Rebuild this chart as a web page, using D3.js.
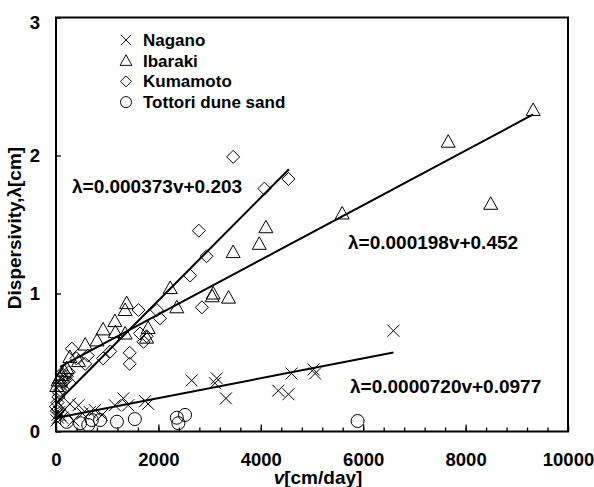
<!DOCTYPE html>
<html>
<head>
<meta charset="UTF-8">
<script src="https://d3js.org/d3.v7.min.js"></script>
<style>
  body { margin: 0; background: #fff; }
  svg text { font-family: "Liberation Sans", Arial, sans-serif; font-weight: bold; font-size: 17px; fill: #000; }
  .tick text { font-size: 18.5px; }
  .eq, .title { font-size: 19px; }
</style>
</head>
<body>
<svg width="594" height="487"></svg>
<script>
// data: [v (cm/day), dispersivity (cm)]
const nagano = [[10,0.08],[25,0.12],[40,0.1],[60,0.14],[80,0.12],[120,0.1],[170,0.16],[270,0.2],[340,0.08],[440,0.19],[520,0.13],[660,0.14],[760,0.155],[900,0.12],
  [1150,0.19],[1315,0.24],[1410,0.19],[1740,0.22],[1800,0.2],[2650,0.37],[3105,0.35],[3140,0.385],[3320,0.24],
  [4340,0.296],[4540,0.27],[4600,0.42],[5030,0.45],[5060,0.42],[6590,0.73]];
const ibaraki = [[15,0.33],[40,0.37],[70,0.39],[110,0.41],[160,0.44],[210,0.46],[270,0.54],[440,0.51],[570,0.63],[800,0.66],[920,0.74],
  [1150,0.8],[1160,0.72],[1350,0.88],[1350,0.71],[1380,0.93],[1770,0.68],[1800,0.75],[2230,1.04],[2360,0.9],
  [3050,0.98],[3070,1.0],[3370,0.97],[3460,1.3],[3970,1.36],[4100,1.48],[5590,1.58],[7660,2.1],[8490,1.65],[9320,2.33]];
const kumamoto = [[0,0.18],[15,0.15],[30,0.21],[45,0.25],[60,0.28],[80,0.3],[100,0.33],[110,0.42],[140,0.36],[180,0.37],[210,0.4],[270,0.35],[250,0.43],
  [310,0.6],[400,0.53],[570,0.49],[620,0.55],[920,0.53],[1060,0.58],[1440,0.57],[1440,0.49],[1610,0.88],[1640,0.71],[1710,0.65],[1770,0.69],
  [1970,0.88],[2030,0.82],[2620,1.13],[2790,1.455],[2850,0.9],[2940,1.27],[3460,1.99],[4070,1.76],[4540,1.83]];
const tottori = [[210,0.07],[470,0.06],[630,0.047],[700,0.083],[860,0.083],[1190,0.071],[1540,0.09],[2360,0.1],[2390,0.06],[2520,0.12],[5890,0.076]];

// trend lines: slope, intercept, v range, label anchor (data units)
const fits = [
  { slope: 0.000373, icpt: 0.203, from: 0, to: 4550, label: "λ=0.000373v+0.203", lx: 312, ly: 1.728 },
  { slope: 0.000198, icpt: 0.452, from: 80, to: 9320, label: "λ=0.000198v+0.452", lx: 5703, ly: 1.322 },
  { slope: 0.0000720, icpt: 0.0977, from: 20, to: 6590, label: "λ=0.0000720v+0.0977", lx: 5742, ly: 0.279 }
];
const xTicks = [0, 2000, 4000, 6000, 8000, 10000];
const yTicks = [0, 1, 2, 3];

const svg = d3.select("svg");
const margin = { top: 17.5, left: 56 };
const width = 512, height = 414;
const g = svg.append("g").attr("transform", `translate(${margin.left},${margin.top})`);

const x = d3.scaleLinear().domain([0, 10000]).range([0, width]);
const y = d3.scaleLinear().domain([0, 3]).range([height, 0]);

// minor ticks every 400
g.append("g")
  .attr("transform", `translate(0,${height})`)
  .call(d3.axisBottom(x).tickValues(d3.range(0, 10001, 400)).tickSize(-4).tickSizeOuter(0).tickFormat(""))
  .call(a => a.select(".domain").remove());

const xa = g.append("g")
  .attr("transform", `translate(0,${height})`)
  .call(d3.axisBottom(x).tickValues(xTicks).tickSize(-7).tickSizeOuter(0).tickPadding(21).tickFormat(d3.format("d")));
xa.select(".domain").remove();

const ya = g.append("g")
  .call(d3.axisLeft(y).tickValues(yTicks).tickSize(-5).tickSizeOuter(0).tickPadding(16).tickFormat(d3.format("d")));
ya.select(".domain").remove();
ya.selectAll(".tick").filter(d => d === 3).select("text").attr("dy", "0.62em");

svg.selectAll(".tick line").attr("stroke", "#000").attr("stroke-width", 1.3);
svg.selectAll(".tick text").attr("font-size", null).attr("font-family", null);
svg.selectAll(".domain").remove();

g.append("rect").attr("width", width).attr("height", height)
  .attr("fill", "none").attr("stroke", "#000").attr("stroke-width", 2);

// markers
const shapes = {
  cross: "M-6,-6L6,6M-6,6L6,-6",
  tri: "M0,-7L7,5.5L-7,5.5Z",
  dia: "M0,-6.5L6.5,0L0,6.5L-6.5,0Z",
  circ: d3.symbol(d3.symbolCircle, Math.PI * 6.5 * 6.5)()
};
const series = [
  { name: "Nagano", data: nagano, shape: "cross" },
  { name: "Ibaraki", data: ibaraki, shape: "tri" },
  { name: "Kumamoto", data: kumamoto, shape: "dia" },
  { name: "Tottori dune sand", data: tottori, shape: "circ" }
];

series.forEach(s => {
  g.selectAll(null).data(s.data).enter().append("path")
    .attr("d", shapes[s.shape])
    .attr("transform", d => `translate(${x(d[0])},${y(d[1])})`)
    .attr("fill", "none").attr("stroke", "#000").attr("stroke-width", 1);
});

// trend lines
const line = d3.line().x(d => x(d[0])).y(d => y(d[1]));
fits.forEach(f => {
  g.append("path")
    .attr("d", line([[f.from, f.icpt + f.slope * f.from], [f.to, f.icpt + f.slope * f.to]]))
    .attr("stroke", "#000").attr("stroke-width", 2).attr("fill", "none");
  g.append("text").attr("class", "eq").attr("x", x(f.lx)).attr("y", y(f.ly)).text(f.label);
});

// legend
const lg = svg.append("g").attr("transform", "translate(126,40)");
series.forEach((s, i) => {
  lg.append("path").attr("d", shapes[s.shape])
    .attr("transform", `translate(0,${i * 20.7}) scale(0.85)`)
    .attr("fill", "none").attr("stroke", "#000").attr("stroke-width", 1.1);
  lg.append("text").attr("x", 17).attr("y", i * 20.7 + 6).text(s.name);
});

// axis titles
svg.append("text").attr("class", "title").attr("transform", "translate(21,228) rotate(-90)")
  .attr("text-anchor", "middle").text("Dispersivity,λ[cm]");
const xt = svg.append("text").attr("class", "title").attr("x", 318).attr("y", 484).attr("text-anchor", "middle");
xt.append("tspan").attr("font-style", "italic").text("v");
xt.append("tspan").text("[cm/day]");
</script>
</body>
</html>
